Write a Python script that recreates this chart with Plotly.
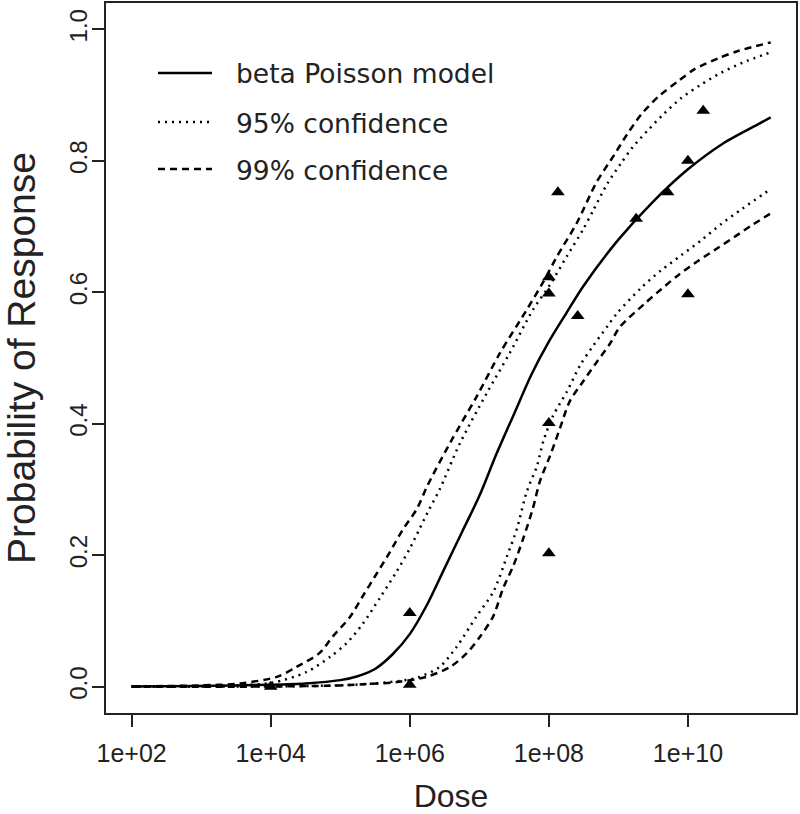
import numpy as np
import plotly.graph_objects as go

# ---------------- data ----------------
model_log_dose = [2.0, 3.0, 3.5, 4.0, 4.5, 5.0, 5.25, 5.5, 5.75, 6.0, 6.25, 6.5, 6.75, 7.0,
                  7.25, 7.5, 7.75, 8.0, 8.25, 8.5, 9.0, 9.5, 10.0, 10.5, 11.0, 11.19]
model_prob = [0.0005, 0.001, 0.002, 0.003, 0.005, 0.010, 0.016, 0.027, 0.049, 0.080, 0.125,
              0.180, 0.235, 0.29, 0.355, 0.415, 0.475, 0.525, 0.568, 0.610, 0.680, 0.738,
              0.787, 0.826, 0.855, 0.866]

ci95_upper_log_dose = [2.0, 3.0, 3.5, 4.02, 4.51, 4.85, 5.09, 5.32, 5.57, 5.81, 6.0, 6.14, 6.28,
                       6.43, 6.72, 7.11, 7.44, 7.77, 8.02, 8.26, 8.49, 8.64, 8.84, 9.03, 9.20,
                       9.42, 9.66, 9.90, 10.19, 10.48, 10.78, 11.19]
ci95_upper_prob = [0.0005, 0.001, 0.002, 0.006, 0.022, 0.045, 0.066, 0.095, 0.135, 0.175, 0.21,
                   0.24, 0.27, 0.30, 0.37, 0.447, 0.508, 0.573, 0.612, 0.655, 0.695, 0.725,
                   0.765, 0.795, 0.82, 0.846, 0.872, 0.895, 0.916, 0.934, 0.949, 0.965]

ci99_upper_log_dose = [2.0, 3.0, 3.56, 4.09, 4.37, 4.70, 4.89, 5.14, 5.32, 5.53, 5.71, 5.90,
                       6.10, 6.25, 6.58, 6.96, 7.30, 7.68, 7.91, 8.12, 8.40, 8.69, 8.94, 9.13,
                       9.34, 9.59, 9.86, 10.09, 10.44, 10.72, 11.19]
ci99_upper_prob = [0.0005, 0.002, 0.005, 0.015, 0.03, 0.051, 0.076, 0.106, 0.137, 0.173, 0.204,
                   0.239, 0.27, 0.305, 0.371, 0.441, 0.508, 0.573, 0.614, 0.655, 0.705, 0.768,
                   0.809, 0.841, 0.872, 0.899, 0.921, 0.939, 0.956, 0.967, 0.98]

ci95_lower_log_dose = [2.0, 4.0, 5.0, 5.5, 6.0, 6.14, 6.43, 6.67, 6.96, 7.20, 7.40, 7.54, 7.68,
                       7.83, 7.92, 8.06, 8.26, 8.45, 8.64, 8.84, 8.98, 9.33, 9.61, 9.90, 10.19,
                       10.48, 10.78, 11.19]
ci95_lower_prob = [0.0, 0.0005, 0.002, 0.005, 0.011, 0.015, 0.03, 0.06, 0.107, 0.144, 0.199,
                   0.24, 0.296, 0.336, 0.373, 0.412, 0.449, 0.489, 0.519, 0.548, 0.568, 0.607,
                   0.633, 0.656, 0.679, 0.704, 0.727, 0.757]

ci99_lower_log_dose = [2.0, 4.0, 5.0, 5.38, 5.81, 6.24, 6.58, 6.82, 7.01, 7.20, 7.34, 7.49, 7.63,
                       7.77, 7.87, 8.02, 8.16, 8.30, 8.49, 8.69, 8.88, 9.02, 9.37, 9.62, 9.86,
                       10.15, 10.44, 10.68, 10.92, 11.19]
ci99_lower_prob = [0.0, 0.0003, 0.002, 0.004, 0.007, 0.015, 0.03, 0.051, 0.076, 0.107, 0.149,
                   0.184, 0.225, 0.271, 0.312, 0.352, 0.393, 0.434, 0.464, 0.494, 0.522, 0.547,
                   0.582, 0.605, 0.626, 0.648, 0.668, 0.685, 0.702, 0.72]

obs_dose = [1e4, 1e6, 1e6, 1e8, 1e8, 1e8, 1e8, 1.35e8, 2.6e8, 1.8e9, 5.1e9, 1e10, 1e10, 1.66e10]
obs_prob = [0.0, 0.003, 0.112, 0.203, 0.401, 0.598, 0.623, 0.752, 0.564, 0.712, 0.752, 0.80,
            0.597, 0.876]

x_tick_vals = [1e2, 1e4, 1e6, 1e8, 1e10]
x_tick_text = ["1e+02", "1e+04", "1e+06", "1e+08", "1e+10"]
y_tick_vals = [0.0, 0.2, 0.4, 0.6, 0.8, 1.0]
y_tick_text = ["0.0", "0.2", "0.4", "0.6", "0.8", "1.0"]

legend_labels = ["beta Poisson model", "95% confidence", "99% confidence"]

# ---------------- figure ----------------
W, H = 800, 814
ML, MR, MT, MB = 106, 4, 3, 101

DOT = "2px,5px"
DASH = "7px,5px"
LW = 2.5

fig = go.Figure()

def curve(logd, p, dash, name):
    fig.add_trace(go.Scatter(x=10 ** np.array(logd), y=p, mode="lines", name=name,
                             line=dict(color="black", width=LW, dash=dash,
                                       shape="spline", smoothing=0.8),
                             showlegend=False, hoverinfo="skip"))

curve(ci99_upper_log_dose, ci99_upper_prob, DASH, "99% upper")
curve(ci99_lower_log_dose, ci99_lower_prob, DASH, "99% lower")
curve(ci95_upper_log_dose, ci95_upper_prob, DOT, "95% upper")
curve(ci95_lower_log_dose, ci95_lower_prob, DOT, "95% lower")
curve(model_log_dose, model_prob, "solid", "beta Poisson model")

fig.add_trace(go.Scatter(x=obs_dose, y=obs_prob, mode="markers", name="observed",
                         marker=dict(symbol="triangle-up", size=12, color="black",
                                     line=dict(width=0)),
                         showlegend=False))

FAM = "Liberation Sans, Arial, Helvetica, sans-serif"

fig.update_xaxes(type="log", range=[1.632, 11.554], tickvals=x_tick_vals, ticktext=x_tick_text,
                 ticks="outside", ticklen=12, tickwidth=1.5, tickcolor="#222",
                 showline=True, mirror=True, linecolor="#222", linewidth=1.5,
                 showgrid=False, zeroline=False, automargin=False, ticklabelstandoff=5,
                 tickfont=dict(family=FAM, size=25, color="#222"),
                 title=dict(text="Dose", font=dict(family=FAM, size=32, color="#222"),
                            standoff=20))
fig.update_yaxes(range=[-0.04, 1.04], tickvals=y_tick_vals, ticktext=y_tick_text,
                 ticks="outside", ticklen=12, tickwidth=1.5, tickcolor="#222",
                 showline=True, mirror=True, linecolor="#222", linewidth=1.5,
                 showgrid=False, zeroline=False, automargin=False, ticklabelstandoff=-4,
                 tickfont=dict(family=FAM, size=24, color="#222"), tickangle=-90,
                 title=dict(text="Probability of Response",
                            font=dict(family=FAM, size=39, color="#222"), standoff=20))

# legend drawn manually (R-style legend without box)
pw, ph = W - ML - MR, H - MT - MB
def px(xp):
    return (xp - ML) / pw
def py(yp):
    return 1 - (yp - MT) / ph

row_y = [73, 122, 169]
row_dash = ["solid", DOT, DASH]
for label, yy, dsh in zip(legend_labels, row_y, row_dash):
    fig.add_shape(type="line", xref="paper", yref="paper", x0=px(158), x1=px(212),
                  y0=py(yy), y1=py(yy), line=dict(color="black", width=LW, dash=dsh))
    fig.add_annotation(xref="paper", yref="paper", x=px(234), y=py(yy + 1), text=label,
                       showarrow=False, xanchor="left", yanchor="middle",
                       font=dict(family="DejaVu Sans, Verdana, sans-serif", size=26.5,
                                 color="#222"))

fig.update_layout(width=W, height=H, margin=dict(l=ML, r=MR, t=MT, b=MB),
                  plot_bgcolor="white", paper_bgcolor="white", showlegend=False)

fig.write_html("out.html", config={"displayModeBar": False},
               post_script="document.body.style.margin='0';document.body.style.padding='0';")
